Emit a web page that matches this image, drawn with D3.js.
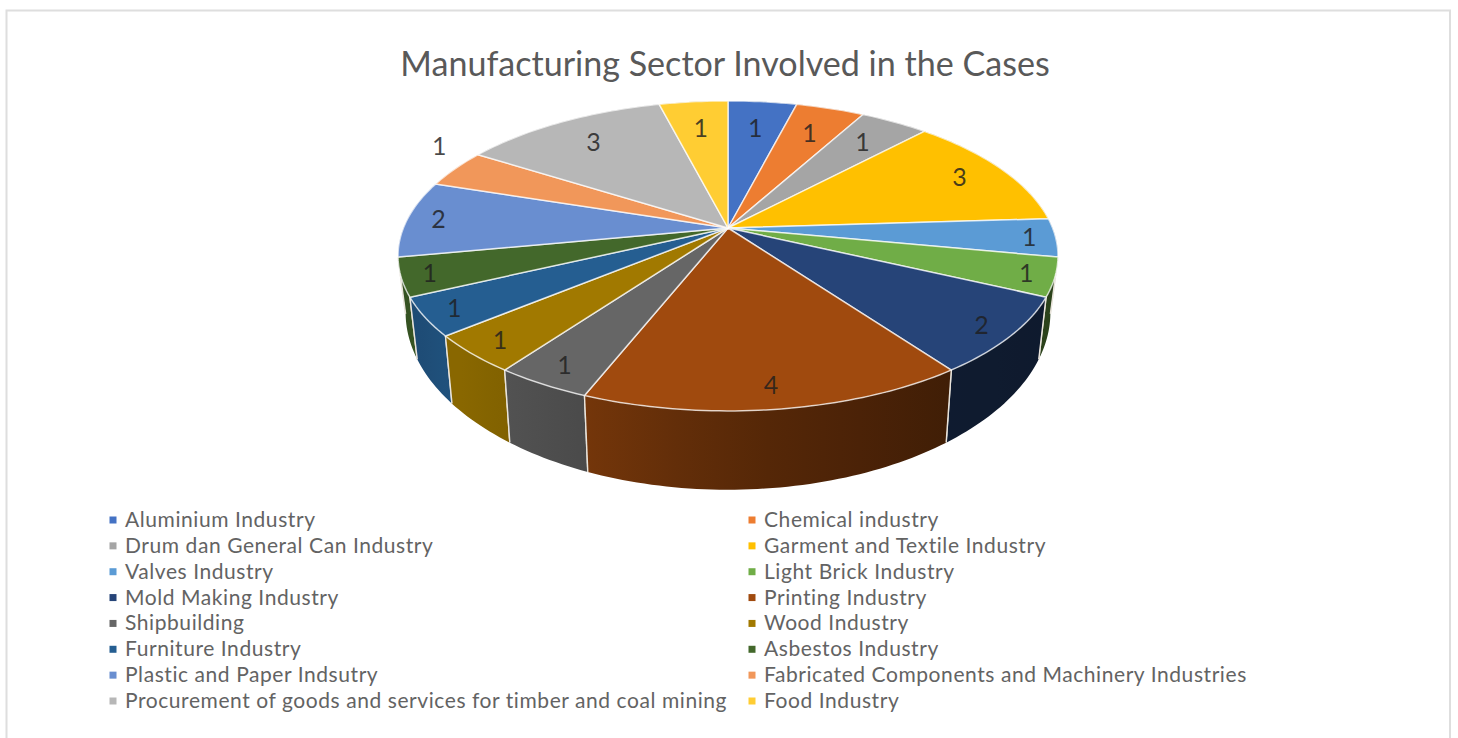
<!DOCTYPE html>
<html>
<head>
<meta charset="utf-8">
<title>Manufacturing Sector Involved in the Cases</title>
<script src="https://cdn.jsdelivr.net/npm/d3@7"></script>
<style>
  html, body { margin: 0; padding: 0; background: #fff; }
  svg { display: block; }
  text { font-family: Lato, "Open Sans", sans-serif; }
</style>
</head>
<body>
<svg id="chart" width="1458" height="738"></svg>
<script>
const chartTitle = "Manufacturing Sector Involved in the Cases";
const sectors = [
  "Aluminium Industry", "Chemical industry", "Drum dan General Can Industry",
  "Garment and Textile Industry", "Valves Industry", "Light Brick Industry",
  "Mold Making Industry", "Printing Industry", "Shipbuilding", "Wood Industry",
  "Furniture Industry", "Asbestos Industry", "Plastic and Paper Indsutry",
  "Fabricated Components and Machinery Industries",
  "Procurement of goods and services for timber and coal mining", "Food Industry"
];
const caseCounts = [1, 1, 1, 3, 1, 1, 2, 4, 1, 1, 1, 1, 2, 1, 3, 1];
const sliceColors = [
  "#4472c4", "#ed7d31", "#a5a5a5", "#ffc000", "#5b9bd5", "#70ad47", "#264478", "#a04a0e",
  "#666666", "#a17900", "#255e91", "#43682b", "#698ed0", "#f1975a", "#b7b7b7", "#ffcd33"
];
// Data labels that sit outside the disc, with their offset from the rim.
const outsideLabelOffsets = new Map([[13, [-16, -22]]]);

const svg = d3.select("#chart");

// Frame around the chart area
svg.append("rect")
  .attr("x", 6.5).attr("y", 10.5).attr("width", 1443.5).attr("height", 740)
  .attr("fill", "#fff").attr("stroke", "#dedede").attr("stroke-width", 2);

svg.append("text")
  .attr("x", 725).attr("y", 75.5)
  .attr("text-anchor", "middle")
  .attr("font-size", 34.1)
  .attr("fill", "#595959")
  .text(chartTitle);

// Perspective view of the disc: a point on the unit circle maps to the screen
// with a divisor that shrinks toward the viewer.
const cx = 728, cy = 228, rx = 324.6, ry = 150, persp = 0.18;
const wallDepth = 53, baseShrink = 0.977;

function project(angle, r = 1) {
  const ux = r * Math.sin(angle), uy = -r * Math.cos(angle);
  const w = 1 - persp * uy;
  return [cx + rx * ux / w, cy + ry * uy / w, w];
}
function projectBase(angle) {
  const [x, y, w] = project(angle);
  return [cx + (x - cx) * baseShrink, y + wallDepth / (w * w)];
}
function arcAngles(a0, a1) {
  const n = Math.max(4, Math.ceil((a1 - a0) / 0.02));
  return d3.range(n + 1).map(i => a0 + (a1 - a0) * i / n);
}

const pie = d3.pie().sort(null).startAngle(0).endAngle(2 * Math.PI);
const slices = pie(caseCounts).map(d => ({ ...d, mid: (d.startAngle + d.endAngle) / 2 }));
const line = d3.line();
const wallShade = d3.scaleLinear()
  .domain([400, 450, 590, 730, 950, 1050])
  .range([0.78, 0.86, 0.72, 0.56, 0.40, 0.38]);

const defs = svg.append("defs");
const disc = svg.append("g");

// Side wall, painted from the back of the disc to the front
const walls = slices.slice().sort((a, b) => -Math.cos(a.mid) - -Math.cos(b.mid));
walls.forEach(d => {
  const angles = arcAngles(d.startAngle, d.endAngle);
  const top = angles.map(a => project(a).slice(0, 2));
  const base = angles.map(projectBase).reverse();
  const xs = top.concat(base).map(p => p[0]);
  const [x0, x1] = d3.extent(xs);
  const base0 = d3.color(sliceColors[d.index]);
  const grad = defs.append("linearGradient")
    .attr("id", `wall-${d.index}`)
    .attr("gradientUnits", "userSpaceOnUse")
    .attr("x1", x0).attr("x2", x1).attr("y1", 0).attr("y2", 0);
  d3.range(5).forEach(i => {
    const t = i / 4, x = x0 + (x1 - x0) * t, k = wallShade(x);
    grad.append("stop").attr("offset", t)
      .attr("stop-color", d3.rgb(base0.r * k, base0.g * k, base0.b * k).formatHex());
  });
  disc.append("path")
    .attr("d", line(top.concat(base)) + "Z")
    .attr("fill", `url(#wall-${d.index})`);
  [d.startAngle, d.endAngle].forEach(a => {
    disc.append("path")
      .attr("d", line([project(a).slice(0, 2), projectBase(a)]))
      .attr("stroke", "#e9e4dc").attr("stroke-width", 1.4).attr("fill", "none");
  });
});

// Top face
slices.forEach(d => {
  const rim = arcAngles(d.startAngle, d.endAngle).map(a => project(a).slice(0, 2));
  disc.append("path")
    .attr("d", line([[cx, cy], ...rim]) + "Z")
    .attr("fill", sliceColors[d.index])
    .attr("stroke", "#fff").attr("stroke-opacity", 0.72)
    .attr("stroke-width", 1.5).attr("stroke-linejoin", "round");
});

// Value labels, pulled further in at the back of the disc where it is foreshortened
svg.append("g").selectAll("text").data(slices).join("text")
  .each(function (d) {
    const c = Math.cos(d.mid);
    const r = c > 0 ? 0.92 - 0.16 * Math.pow(c, 0.8) : 0.92 - 0.03 * c * c;
    const off = outsideLabelOffsets.get(d.index);
    const [x, y] = off ? project(d.mid, 1) : project(d.mid, r);
    d3.select(this)
      .attr("x", x + (off ? off[0] : 0))
      .attr("y", y + (off ? off[1] : 0))
      .attr("dy", "0.35em");
  })
  .attr("text-anchor", "middle")
  .attr("font-size", 25)
  .attr("fill", "#1f1f1f")
  .attr("fill-opacity", 0.82)
  .text(d => d.value);

// Two-column legend, filled row by row
const rows = d3.scalePoint().domain(d3.range(8)).range([520, 701]);
const columns = d3.scaleOrdinal().domain([0, 1]).range([113, 752]);
const legend = svg.append("g").selectAll("g").data(sectors).join("g")
  .attr("transform", (d, i) => `translate(${columns(i % 2)},${rows(Math.floor(i / 2))})`);
legend.append("rect")
  .attr("x", -3.5).attr("y", -3.5).attr("width", 7).attr("height", 7)
  .attr("fill", (d, i) => sliceColors[i]);
legend.append("text")
  .attr("x", 12).attr("dy", "0.33em")
  .attr("font-size", 21)
  .attr("letter-spacing", 0.57)
  .attr("fill", "#636363")
  .text(d => d);
</script>
</body>
</html>
